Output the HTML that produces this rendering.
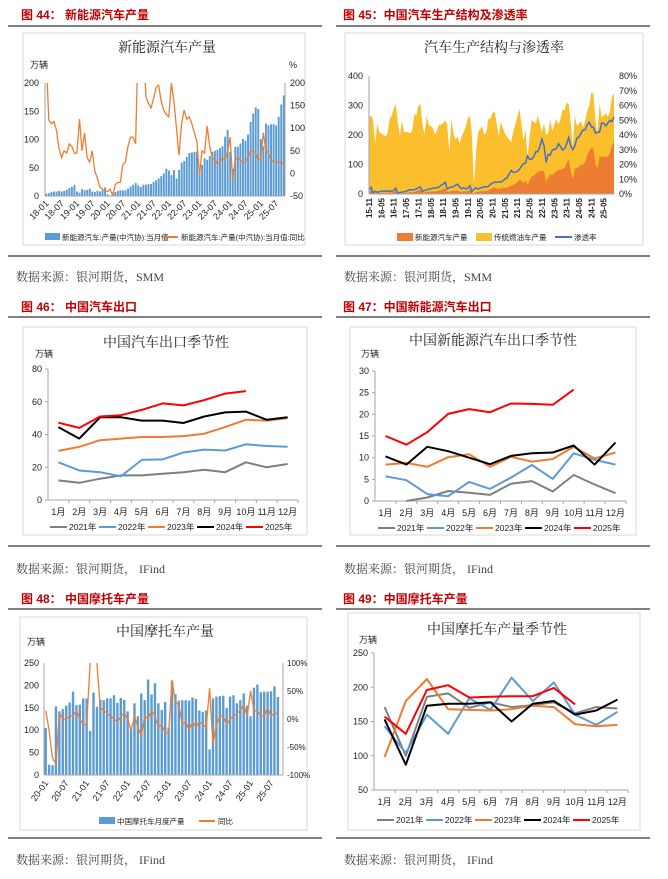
<!DOCTYPE html>
<html><head><meta charset="utf-8">
<style>
html,body{margin:0;padding:0;background:#fff;}
svg{display:block;}
.hd{font-family:"Liberation Sans","Noto Sans CJK SC",sans-serif;font-weight:bold;font-size:12px;fill:#c00000;}
.ct{font-family:"Liberation Serif","Noto Serif CJK SC",serif;font-size:14px;fill:#222;}
.src{font-family:"Liberation Serif","Noto Serif CJK SC",serif;font-size:12px;fill:#444;}
.tk{font-family:"Liberation Sans","Noto Sans CJK SC",sans-serif;font-size:9px;fill:#222;}
.lg{font-family:"Liberation Sans","Noto Sans CJK SC",sans-serif;font-size:8.5px;fill:#222;}
</style></head>
<body>
<svg id="page" width="668" height="879" viewBox="0 0 668 879" xmlns="http://www.w3.org/2000/svg">
<!-- headings and frames -->
<g>
<text class="hd" x="21" y="19">图 44：   新能源汽车产量</text>
<line x1="8" y1="26" x2="322" y2="26" stroke="#000" stroke-width="1"/>
<rect x="23" y="33" width="282" height="212" fill="none" stroke="#d9d9d9"/>
<text class="ct" x="167" y="52" text-anchor="middle">新能源汽车产量</text>
<text class="tk" x="30" y="68">万辆</text><text class="tk" x="289" y="68">%</text>
<line x1="8" y1="256" x2="322" y2="256" stroke="#000"/>
<text class="src" x="16" y="281">数据来源：银河期货，SMM</text>
</g>
<g>
<text class="hd" x="343" y="19">图 45：中国汽车生产结构及渗透率</text>
<line x1="336" y1="26" x2="650" y2="26" stroke="#000"/>
<rect x="345" y="33" width="298" height="212" fill="none" stroke="#d9d9d9"/>
<text class="ct" x="494" y="52" text-anchor="middle">汽车生产结构与渗透率</text>
<line x1="336" y1="256" x2="650" y2="256" stroke="#000"/>
<text class="src" x="344" y="281">数据来源：银河期货，SMM</text>
</g>
<g>
<text class="hd" x="21" y="311">图 46：   中国汽车出口</text>
<line x1="8" y1="317" x2="322" y2="317" stroke="#000"/>
<rect x="23" y="327" width="284" height="208" fill="none" stroke="#d9d9d9"/>
<text class="ct" x="166" y="347" text-anchor="middle">中国汽车出口季节性</text>
<text class="tk" x="35" y="357">万辆</text>
<line x1="8" y1="546" x2="322" y2="546" stroke="#000"/>
<text class="src" x="16" y="573">数据来源：银河期货，   IFind</text>
</g>
<g>
<text class="hd" x="343" y="311">图 47：中国新能源汽车出口</text>
<line x1="336" y1="317" x2="650" y2="317" stroke="#000"/>
<rect x="350" y="327" width="286" height="208" fill="none" stroke="#d9d9d9"/>
<text class="ct" x="493" y="345" text-anchor="middle">中国新能源汽车出口季节性</text>
<text class="tk" x="361" y="357">万辆</text>
<line x1="336" y1="546" x2="650" y2="546" stroke="#000"/>
<text class="src" x="344" y="573">数据来源：银河期货，   IFind</text>
</g>
<g>
<text class="hd" x="21" y="603">图 48：   中国摩托车产量</text>
<line x1="8" y1="609" x2="322" y2="609" stroke="#000"/>
<rect x="20" y="617" width="287" height="213" fill="none" stroke="#d9d9d9"/>
<text class="ct" x="165" y="636" text-anchor="middle">中国摩托车产量</text>
<text class="tk" x="27" y="645">万辆</text>
<line x1="8" y1="838" x2="322" y2="838" stroke="#000"/>
<text class="src" x="16" y="864">数据来源：银河期货，   IFind</text>
</g>
<g>
<text class="hd" x="343" y="603">图 49：中国摩托车产量</text>
<line x1="336" y1="609" x2="650" y2="609" stroke="#000"/>
<rect x="348" y="613" width="292" height="217" fill="none" stroke="#d9d9d9"/>
<text class="ct" x="497" y="634" text-anchor="middle">中国摩托车产量季节性</text>
<text class="tk" x="359" y="643">万辆</text>
<line x1="336" y1="838" x2="650" y2="838" stroke="#000"/>
<text class="src" x="344" y="864">数据来源：银河期货，   IFind</text>
</g>
</svg>
<script>
// ===== data =====
const monthCats = ['1月','2月','3月','4月','5月','6月','7月','8月','9月','10月','11月','12月'];
const yearNames = ['2021年','2022年','2023年','2024年','2025年'];
// Fig 44 / 45: NEV monthly production 2015-11 .. 2025-10
const nevMonthly = [7,12,
 2,3,3,3,4,4,4,4,5,5,7,12,
 1,2,3,3,4,5,6,6,8,9,13,14,
 4,5,7,8,8,9,8,9,11,14,16,20,
 8,6,12,10,11,13,8,7,9,8,10,15,
 3,1,6,7,9,10,10,10,13,17,20,23,
 19,16,20,20,21,21,25,28,31,35,40,48,
 45,37,46,31,46,59,62,69,76,77,78,79,
 43,55,67,64,71,78,80,82,85,88,105,117,
 78,48,87,87,93,101,98,109,131,146,157,154,
 101,88,128,125,127,127,125,140,162,178];
const totalMonthly = [260,265,
 250,170,240,210,205,200,195,205,255,265,290,305,
 245,195,250,210,210,210,205,215,270,265,300,305,
 235,200,265,235,230,225,200,215,235,235,240,250,
 235,140,255,205,185,195,170,195,210,230,255,265,
 200,30,145,210,220,230,200,210,255,255,275,280,
 240,195,245,225,205,195,185,175,210,235,260,290,
 240,180,220,120,195,250,245,240,265,240,210,240,
 200,205,255,215,235,255,235,255,285,285,310,305,
 240,160,265,230,240,245,225,250,280,300,345,340,
 245,210,305,260,265,275,260,280,330,340];
const nevYoY = [250,118,110,115,95,55,35,50,45,65,60,45,
 45,120,50,90,35,25,50,5,-10,-30,-35,-38,
 -40,-35,-50,-25,-20,-20,20,25,60,80,80,65,
 300,400,300,170,155,145,165,190,195,160,140,130,
 125,200,160,100,40,110,140,120,125,110,90,70,
 -5,50,45,105,60,35,30,20,25,35,30,50,
 80,-15,30,35,30,25,25,35,50,50,45,30,
 30,90,50,45,30,25,25,25,25,20];
const fig44Ticks = ['18-01','18-07','19-01','19-07','20-01','20-07','21-01','21-07','22-01','22-07','23-01','23-07','24-01','24-07','25-01','25-07'];
const fig45Ticks = ['15-11','16-05','16-11','17-05','17-11','18-05','18-11','19-05','19-11','20-05','20-11','21-05','21-11','22-05','22-11','23-05','23-11','24-05','24-11','25-05'];
// Fig 46 car exports
const exp2021 = [12,10.5,13,15,15,16,17,18.5,17,23,20,22];
const exp2022 = [23,18,17,14.5,24.5,24.8,29,30.8,30.2,34,33,32.5];
const exp2023 = [30,32.5,36.5,37.5,38.5,38.5,39,40.5,44.5,49,48.5,50];
const exp2024 = [44.5,37.5,50.5,50.5,48.5,48.5,47,51,53.5,54,49,50.5];
const exp2025 = [47.2,44,51,51.8,55,59,57.8,61,65,66.5];
// Fig 47 NEV exports
const nevExp2021 = [null,0,0.8,2.3,1.9,1.4,4,4.6,2.2,6,3.8,1.8];
const nevExp2022 = [5.7,4.8,1.6,1.1,4.4,2.8,5.4,8.3,5.1,11,9.5,8.4];
const nevExp2023 = [8.4,8.8,7.9,10.1,10.8,7.9,10.2,9.1,9.7,12.5,9.8,11.2];
const nevExp2024 = [10.3,8.4,12.5,11.5,10,8.5,10.4,11,11.2,12.8,8.4,13.5];
const nevExp2025 = [15,13,15.9,20.1,21.2,20.5,22.5,22.4,22.2,25.7];
// Fig 48 motorcycle monthly 2020-01 ..
const motoMonthly = [105,23,22,153,142,147,155,162,186,156,157,171,
 171,98,184,152,168,167,171,171,178,161,172,168,
 142,104,160,131,182,167,213,180,205,160,145,163,
 106,210,180,166,167,167,166,173,170,144,141,144,
 57,171,175,176,177,150,175,178,160,167,182,155,
 131,195,202,185,186,186,187,198,174];
const motoYoY = [15,-20,-70,-80,10,0,0,5,5,15,0,-10,
 -10,100,250,100,20,15,10,5,0,-5,5,10,
 0,-20,5,-15,-30,5,0,15,5,-15,-10,-25,
 -25,70,30,25,-10,-5,-20,-5,-15,-5,-10,-15,
 55,-45,-10,5,5,-10,0,5,10,15,25,5,
 50,15,15,5,5,20,5,10,10];
const fig48Ticks = ['20-01','20-07','21-01','21-07','22-01','22-07','23-01','23-07','24-01','24-07','25-01','25-07'];
// Fig 49 motorcycle seasonal
const moto2021 = [171,100,186,191,170,178,171,174,178,162,171,169];
const moto2022 = [143,104,160,132,184,167,214,180,207,160,145,164];
const moto2023 = [98,180,212,168,167,166,168,173,171,146,143,145];
const moto2024 = [153,87,173,176,176,178,150,176,180,160,166,182];
const moto2025 = [157,132,196,203,185,186,187,187,199,175];

// ===== helpers =====
const NS='http://www.w3.org/2000/svg';
const page=document.getElementById('page');
function mk(tag,attrs,parent){const e=document.createElementNS(NS,tag);for(const k in attrs)e.setAttribute(k,attrs[k]);(parent||page).appendChild(e);return e;}
function txt(x,y,s,cls,anchor,parent,extra){const e=mk('text',Object.assign({x:x,y:y,class:cls,'text-anchor':anchor||'start'},extra||{}),parent);e.textContent=s;return e;}
function lin(d0,d1,r0,r1){return v=>r0+(v-d0)/(d1-d0)*(r1-r0);}
const seasonColors=['#7f7f7f','#5b9bd5','#ed7d31','#000000','#ff0000'];

function seasonal(id,box,series,yTicks){
  const g=mk('g',{});
  
  
  const ys=lin(yTicks[0],yTicks[yTicks.length-1],box.yb,box.yt);
  const bw=(box.x1-box.x0)/12;
  const xs=i=>box.x0+bw*(i+0.5);
  const ax=mk('line',{x1:box.x0,y1:box.yt,x2:box.x0,y2:box.yb,stroke:'#a6a6a6'},g);
  
  
  const bx=mk('line',{x1:box.x0,y1:box.yb,x2:box.x1,y2:box.yb,stroke:'#a6a6a6'},g);
  
  
  yTicks.forEach(t=>{const l=txt(box.x0-6,ys(t)+3,String(t),'tk','end',g);
    
    
    mk('line',{x1:box.x0-3,x2:box.x0,y1:ys(t),y2:ys(t),stroke:'#a6a6a6'},g);});
  monthCats.forEach((m,i)=>{const l=txt(xs(i),box.yb+15,m,'tk','middle',g);
    
    
    mk('line',{x1:box.x0+bw*(i+1),x2:box.x0+bw*(i+1),y1:box.yb,y2:box.yb+3,stroke:'#a6a6a6'},g);});
  series.forEach((arr,si)=>{
    let d='';arr.forEach((v,i)=>{if(v==null)return;d+=(d?'L':'M')+xs(i).toFixed(1)+','+ys(v).toFixed(1);});
    const p=mk('path',{d:d,fill:'none',stroke:seasonColors[si],'stroke-width':2,'stroke-linejoin':'round'},g);
    
    
  });
  const lgx=box.lgx, lgw=box.lgw;
  yearNames.forEach((n,i)=>{
    const x=lgx+i*lgw;
    const e=mk('g',{},g);
    
    
    mk('line',{x1:x,x2:x+17,y1:box.lgy-3,y2:box.lgy-3,stroke:seasonColors[i],'stroke-width':2},e);
    txt(x+19,box.lgy,n,'lg','start',e);
  });
}

// ===== Fig 44 =====
(function(){
  const x0=45,x1=285,yt=83,yb=196;
  const g=mk('g',{});
  
  
  const data=nevMonthly.slice(26);
  const yL=lin(0,200,yb,yt), yR=lin(-50,200,yb,yt);
  const bw=(x1-x0)/data.length;
  [0,50,100,150,200].forEach(t=>{const l=txt(x0-6,yL(t)+3,String(t),'tk','end',g);
    
    });
  [-50,0,50,100,150,200].forEach(t=>{const l=txt(x1+5,yR(t)+3,String(t),'tk','start',g);
    
    });
  data.forEach((v,i)=>{const r=mk('rect',{x:x0+i*bw+0.4,y:yL(v),width:bw*0.75,height:yb-yL(v),fill:'#5b9bd5'},g);
    
    });
  mk('clipPath',{id:'c44'},g).appendChild(Object.assign(document.createElementNS(NS,'rect'),{}));
  const cr=g.querySelector('#c44 rect');cr.setAttribute('x',x0);cr.setAttribute('y',yt);cr.setAttribute('width',x1-x0);cr.setAttribute('height',yb-yt);
  let d='';nevYoY.forEach((v,i)=>{d+=(i?'L':'M')+(x0+(i+0.5)*bw).toFixed(1)+','+yR(v).toFixed(1);});
  const p=mk('path',{d:d,fill:'none',stroke:'#ed7d31','stroke-width':1.3,'clip-path':'url(#c44)'},g);
  
  
  const a=mk('line',{x1:x0,x2:x1,y1:yb,y2:yb,stroke:'#a6a6a6'},g);
  
  
  mk('line',{x1:x0,x2:x0,y1:yt,y2:yb,stroke:'#a6a6a6'},g);
  mk('line',{x1:x1,x2:x1,y1:yt,y2:yb,stroke:'#a6a6a6'},g);
  fig44Ticks.forEach((s,k)=>{const x=x0+(k*6+0.5)*bw;
    const l=txt(x+3,yb+8,s,'tk','end',g,{transform:'rotate(-45 '+(x+3)+' '+(yb+8)+')'});
    
    });
  const l1=mk('g',{},g);
  
  
  mk('rect',{x:45,y:233,width:15,height:7,fill:'#5b9bd5'},l1);
  txt(62,240,'新能源汽车:产量(中汽协):当月值','lg','start',l1,{style:'font-size:7.5px'});
  const l2=mk('g',{},g);
  
  
  mk('line',{x1:163,x2:178,y1:237,y2:237,stroke:'#ed7d31','stroke-width':2},l2);
  txt(181,240,'新能源汽车:产量(中汽协):当月值:同比','lg','start',l2,{style:'font-size:7.5px'});
})();

// ===== Fig 45 =====
(function(){
  const x0=369,x1=614,yt=76,yb=194;
  const g=mk('g',{});
  
  
  const n=totalMonthly.length;
  const xs=i=>x0+i*(x1-x0)/(n-1);
  const yL=lin(0,400,yb,yt), yR=lin(0,0.8,yb,yt);
  [0,100,200,300,400].forEach(t=>{const l=txt(x0-6,yL(t)+3,String(t),'tk','end',g);
    
    });
  [0,10,20,30,40,50,60,70,80].forEach(t=>{const l=txt(x1+5,yR(t/100)+3,t+'%','tk','start',g);
    
    });
  let dT='M'+x0+','+yb;totalMonthly.forEach((v,i)=>{dT+='L'+xs(i).toFixed(1)+','+yL(v).toFixed(1);});dT+='L'+x1+','+yb+'Z';
  const aT=mk('path',{d:dT,fill:'#fbbf2d'},g);
  
  
  let dN='M'+x0+','+yb;nevMonthly.forEach((v,i)=>{dN+='L'+xs(i).toFixed(1)+','+yL(v).toFixed(1);});dN+='L'+x1+','+yb+'Z';
  const aN=mk('path',{d:dN,fill:'#ed7d31'},g);
  
  
  let dP='';nevMonthly.forEach((v,i)=>{dP+=(i?'L':'M')+xs(i).toFixed(1)+','+yR(Math.min(v/totalMonthly[i],0.8)).toFixed(1);});
  const pl=mk('path',{d:dP,fill:'none',stroke:'#4472c4','stroke-width':1.5},g);
  
  
  mk('line',{x1:x0,x2:x1,y1:yb,y2:yb,stroke:'#a6a6a6'},g);
  mk('line',{x1:x0,x2:x0,y1:yt,y2:yb,stroke:'#a6a6a6'},g);
  fig45Ticks.forEach((s,k)=>{const x=xs(k*6)+3;
    const l=txt(x,yb+4,s,'tk','end',g,{transform:'rotate(-90 '+x+' '+(yb+4)+')',style:'font-weight:bold;font-size:8px'});
    
    });
  const e1=mk('g',{},g);
  
  
  mk('rect',{x:397,y:233,width:16,height:8,fill:'#ed7d31'},e1);txt(415,240,'新能源汽车产量','lg','start',e1,{style:'font-size:7.5px'});
  const e2=mk('g',{},g);
  
  
  mk('rect',{x:476,y:233,width:16,height:8,fill:'#fbbf2d'},e2);txt(494,240,'传统燃油车产量','lg','start',e2,{style:'font-size:7.5px'});
  const e3=mk('g',{},g);
  
  
  mk('line',{x1:555,x2:572,y1:237,y2:237,stroke:'#4472c4','stroke-width':2},e3);txt(574,240,'渗透率','lg','start',e3,{style:'font-size:7.5px'});
})();

// ===== Fig 46, 47, 49 =====
seasonal('fig46',{x0:48,x1:298,yt:369,yb:500,lgx:50,lgw:49,lgy:530},[exp2021,exp2022,exp2023,exp2024,exp2025],[0,20,40,60,80]);
seasonal('fig47',{x0:375,x1:626,yt:371,yb:501,lgx:378,lgw:49,lgy:531},[nevExp2021,nevExp2022,nevExp2023,nevExp2024,nevExp2025],[0,5,10,15,20,25,30]);
seasonal('fig49',{x0:374,x1:628,yt:653,yb:790,lgx:377,lgw:49,lgy:823},[moto2021,moto2022,moto2023,moto2024,moto2025],[50,100,150,200,250]);

// ===== Fig 48 =====
(function(){
  const x0=44,x1=283,yt=663,yb=775;
  const g=mk('g',{});
  
  
  const n=motoMonthly.length+1;
  const bw=(x1-x0)/n;
  const yL=lin(0,250,yb,yt), yR=lin(-100,100,yb,yt);
  [0,50,100,150,200,250].forEach(t=>{const l=txt(x0-5,yL(t)+3,String(t),'tk','end',g);
    
    });
  [-100,-50,0,50,100].forEach(t=>{const l=txt(x1+4,yR(t)+3,t+'%','tk','start',g,{style:'font-size:8px'});
    
    });
  motoMonthly.forEach((v,i)=>{const r=mk('rect',{x:x0+i*bw+0.5,y:yL(v),width:bw*0.7,height:yb-yL(v),fill:'#5b9bd5'},g);
    
    });
  const cp=mk('clipPath',{id:'c48'},g);mk('rect',{x:x0,y:yt,width:x1-x0,height:yb-yt},cp);
  let d='';motoYoY.forEach((v,i)=>{d+=(i?'L':'M')+(x0+(i+0.5)*bw).toFixed(1)+','+yR(v).toFixed(1);});
  const p=mk('path',{d:d,fill:'none',stroke:'#ed7d31','stroke-width':1.3,'clip-path':'url(#c48)'},g);
  
  
  mk('line',{x1:x0,x2:x1,y1:yb,y2:yb,stroke:'#a6a6a6'},g);
  mk('line',{x1:x0,x2:x0,y1:yt,y2:yb,stroke:'#a6a6a6'},g);
  mk('line',{x1:x1,x2:x1,y1:yt,y2:yb,stroke:'#a6a6a6'},g);
  fig48Ticks.forEach((s,k)=>{const x=x0+(k*6+0.5)*bw+3;
    const l=txt(x,yb+8,s,'tk','end',g,{transform:'rotate(-55 '+x+' '+(yb+8)+')'});
    
    });
  const e1=mk('g',{},g);
  
  
  mk('rect',{x:99,y:817,width:16,height:7,fill:'#5b9bd5'},e1);txt(117,824,'中国摩托车月度产量','lg','start',e1,{style:'font-size:7.5px'});
  const e2=mk('g',{},g);
  
  
  mk('line',{x1:199,x2:215,y1:821,y2:821,stroke:'#ed7d31','stroke-width':2},e2);txt(218,824,'同比','lg','start',e2,{style:'font-size:7.5px'});
})();
</script>
</body></html>
